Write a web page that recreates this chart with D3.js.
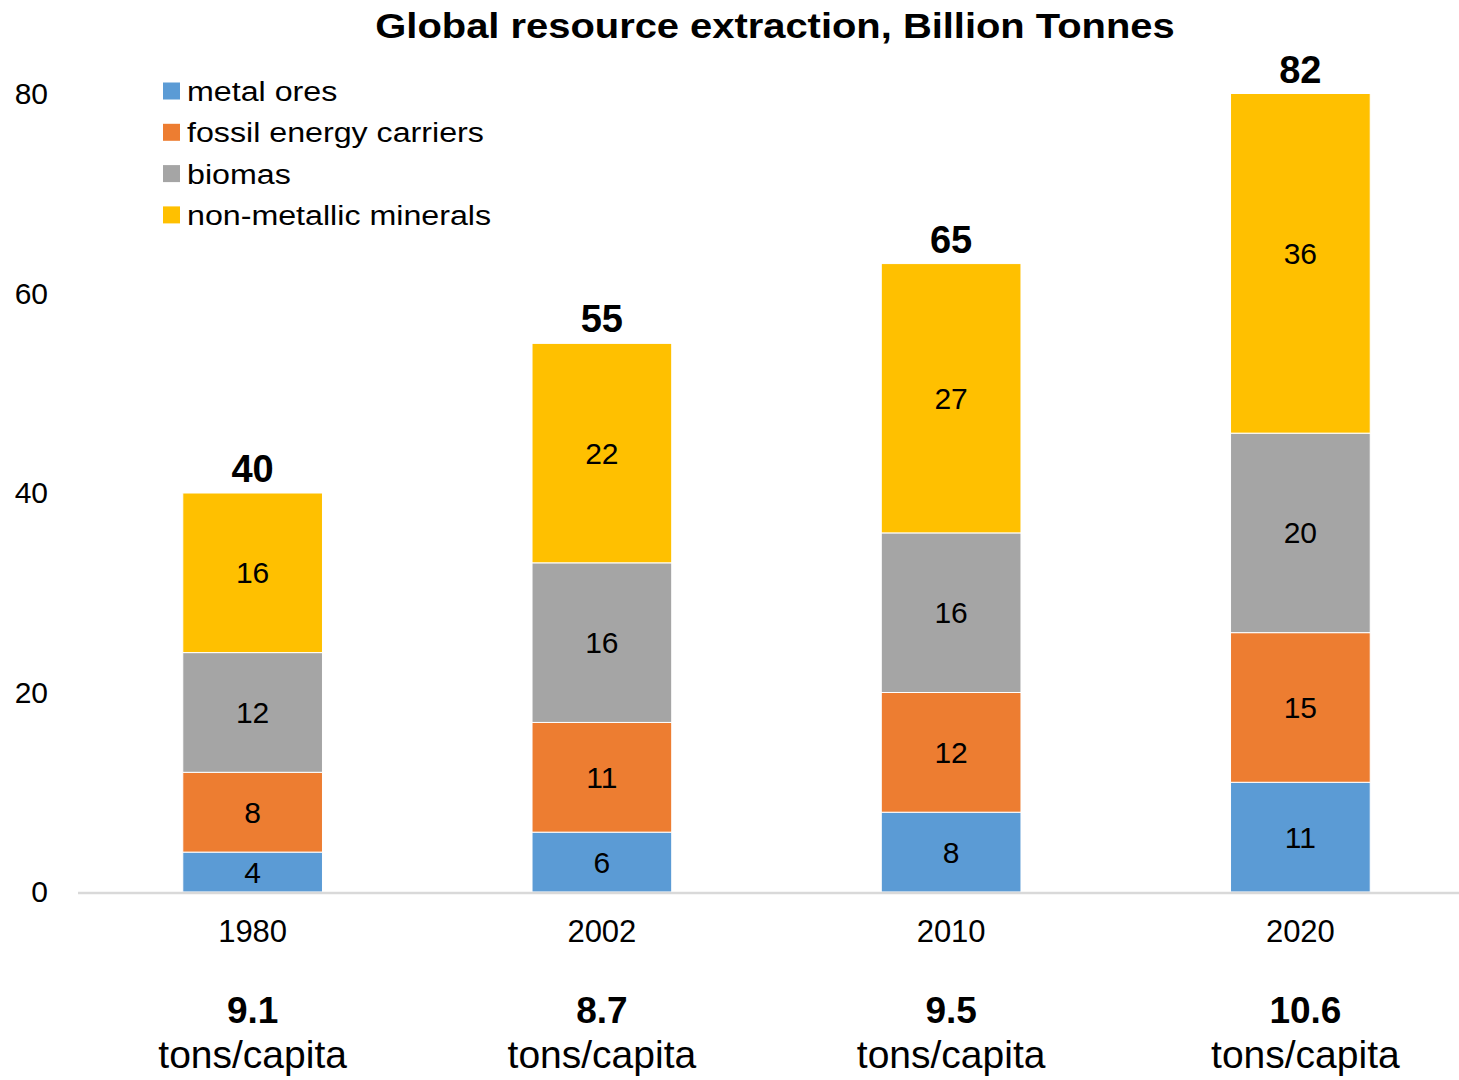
<!DOCTYPE html>
<html>
<head>
<meta charset="utf-8">
<script src="https://cdn.jsdelivr.net/npm/d3@7"></script>
<style>
  body { margin: 0; background: #fff; }
  svg { display: block; font-family: "Liberation Sans", Arial, sans-serif; }
</style>
</head>
<body>
<div class="chart"></div>
<script>
// data
var years = ["1980", "2002", "2010", "2020"];
var metalOres = [4, 6, 8, 11];
var fossilEnergy = [8, 11, 12, 15];
var biomas = [12, 16, 16, 20];
var nonMetallic = [16, 22, 27, 36];
var totals = [40, 55, 65, 82];
var perCapita = ["9.1", "8.7", "9.5", "10.6"];
var yTicks = [0, 20, 40, 60, 80];

var seriesNames = ["metal ores", "fossil energy carriers", "biomas", "non-metallic minerals"];
var seriesColors = ["#5B9BD5", "#ED7D31", "#A5A5A5", "#FFC000"];
var seriesValues = [metalOres, fossilEnergy, biomas, nonMetallic];

var width = 1459;
var height = 1080;

var svg = d3.select('.chart')
    .append('svg')
    .attr('width', width)
    .attr('height', height);

// rows for d3.stack
var rows = years.map(function(yr, i) {
    var row = { year: yr };
    seriesNames.forEach(function(name, j) {
        row[name] = seriesValues[j][i];
    });
    return row;
});

var x = d3.scaleBand()
    .domain(years)
    .range([78, 1475])
    .paddingInner(0.6)
    .paddingOuter(0.3);

var y = d3.scaleLinear()
    .domain([0, 80])
    .range([892, 94]);

var stack = d3.stack().keys(seriesNames);
var layers = stack(rows);

// bars above the axis max get cut off
svg.append('clipPath')
    .attr('id', 'plotClip')
    .append('rect')
    .attr('x', 0)
    .attr('y', y(80))
    .attr('width', width)
    .attr('height', y(0) - y(80));

var layer = svg.append('g')
    .attr('clip-path', 'url(#plotClip)')
    .selectAll('g')
    .data(layers)
    .enter()
    .append('g')
    .attr('fill', function(d, i) { return seriesColors[i]; });

layer.selectAll('rect')
    .data(function(d) { return d; })
    .enter()
    .append('rect')
    .attr('x', function(d) { return x(d.data.year); })
    .attr('y', function(d) { return y(d[1]); })
    .attr('width', x.bandwidth())
    .attr('height', function(d) { return y(d[0]) - y(d[1]); })
    .attr('stroke', '#ffffff')
    .attr('stroke-width', 1);

// value labels in the middle of each segment
var labels = svg.append('g');
layers.forEach(function(ly) {
    labels.selectAll(null)
        .data(ly)
        .enter()
        .append('text')
        .attr('x', function(d) { return x(d.data.year) + x.bandwidth() / 2; })
        .attr('y', function(d) { return y((d[0] + d[1]) / 2); })
        .attr('dy', '0.35em')
        .attr('text-anchor', 'middle')
        .attr('font-size', 30)
        .attr('fill', '#000')
        .text(function(d) { return d[1] - d[0]; });
});

// x axis line
svg.append('line')
    .attr('x1', 78)
    .attr('x2', width)
    .attr('y1', y(0) + 1)
    .attr('y2', y(0) + 1)
    .attr('stroke', '#D9D9D9')
    .attr('stroke-width', 2.5);

// y axis labels (no axis line)
var yAxis = d3.axisLeft(y).tickValues(yTicks).tickSize(0).tickPadding(0);
var yG = svg.append('g')
    .attr('transform', 'translate(48,0)')
    .call(yAxis);
yG.select('.domain').remove();
yG.selectAll('text')
    .attr('font-size', 30)
    .attr('font-family', '"Liberation Sans", Arial, sans-serif')
    .attr('fill', '#000');

// year labels
var xAxis = d3.axisBottom(x).tickSize(0).tickPadding(0);
var xG = svg.append('g')
    .attr('transform', 'translate(0,942)')
    .call(xAxis);
xG.select('.domain').remove();
xG.selectAll('text')
    .attr('dy', 0)
    .attr('font-size', 31)
    .attr('font-family', '"Liberation Sans", Arial, sans-serif')
    .attr('fill', '#000');

// totals on top of each bar
svg.append('g').selectAll('text')
    .data(years)
    .enter()
    .append('text')
    .attr('x', function(d) { return x(d) + x.bandwidth() / 2; })
    .attr('y', function(d, i) {
        var top = Math.min(d3.sum(seriesValues, function(s) { return s[i]; }), 80);
        return y(top) - 11;
    })
    .attr('text-anchor', 'middle')
    .attr('font-size', 38)
    .attr('font-weight', 'bold')
    .text(function(d, i) { return totals[i]; });

// per capita figures under the years
var pc = svg.append('g').selectAll('g')
    .data(years)
    .enter()
    .append('g')
    .attr('transform', function(d) { return 'translate(' + (x(d) + x.bandwidth() / 2 + (d === "2020" ? 5 : 0)) + ',0)'; });
pc.append('text')
    .attr('y', 1023)
    .attr('text-anchor', 'middle')
    .attr('font-size', 37)
    .attr('font-weight', 'bold')
    .text(function(d, i) { return perCapita[i]; });
pc.append('text')
    .attr('y', 1068)
    .attr('text-anchor', 'middle')
    .attr('font-size', 39)
    .text('tons/capita');

// title
svg.append('text')
    .attr('transform', 'translate(775,38) scale(1.14,1)')
    .attr('text-anchor', 'middle')
    .attr('font-size', 35)
    .attr('font-weight', 'bold')
    .text('Global resource extraction, Billion Tonnes');

// legend
var legend = svg.append('g').selectAll('g')
    .data(seriesNames)
    .enter()
    .append('g')
    .attr('transform', function(d, i) { return 'translate(163,' + (91 + i * 41.3) + ')'; });
legend.append('rect')
    .attr('x', 0)
    .attr('y', -8.5)
    .attr('width', 17)
    .attr('height', 17)
    .attr('fill', function(d, i) { return seriesColors[i]; });
legend.append('text')
    .attr('transform', 'translate(24,10) scale(1.15,1)')
    .attr('font-size', 28)
    .text(function(d) { return d; });
</script>
</body>
</html>
